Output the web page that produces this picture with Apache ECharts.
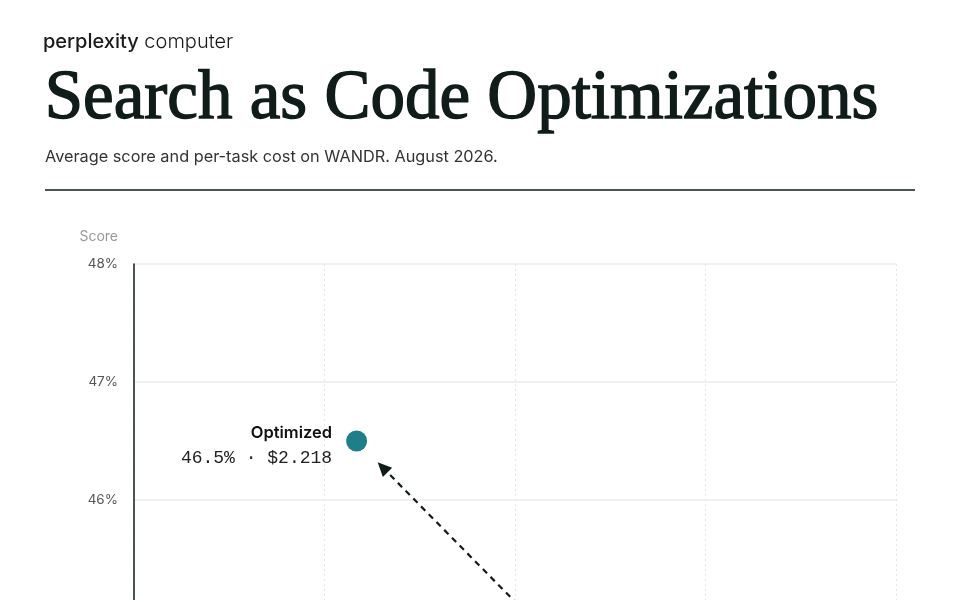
<!DOCTYPE html>
<html>
<head>
<meta charset="utf-8">
<script src="https://cdn.jsdelivr.net/npm/echarts@6/dist/echarts.min.js"></script>
<style>
  html, body { margin: 0; padding: 0; background: #fff; }
  #chart { width: 960px; height: 600px; }
</style>
</head>
<body>
<div id="chart"></div>
<script>
// 数据
const pointNames = ['Baseline', 'Optimized'];
const costs = [3.03, 2.218];      // $ per task
const scores = [44.6, 46.5];      // average score, %
const yTicks = { min: 44, max: 48, step: 1 };
const xTicks = { min: 1.4, max: 4.2, step: 0.7 };

const ink = '#0f1c1a';
const teal = '#1f7f89';

const myChart = echarts.init(document.getElementById('chart'));

// arrow from baseline to optimized, stops short of both dots
function arrow(params, api) {
  const p1 = api.coord([api.value(0), api.value(1)]);
  const p2 = api.coord([api.value(2), api.value(3)]);
  const dx = p2[0] - p1[0], dy = p2[1] - p1[1];
  const len = Math.sqrt(dx * dx + dy * dy);
  const ux = dx / len, uy = dy / len;
  const tip = [p2[0] - ux * 30, p2[1] - uy * 30];
  const back = [tip[0] - ux * 14, tip[1] - uy * 14];
  const start = [p1[0] + ux * 30, p1[1] + uy * 30];
  return {
    type: 'group',
    children: [
      { type: 'line', shape: { x1: start[0], y1: start[1], x2: back[0], y2: back[1] },
        style: { stroke: ink, lineWidth: 2.2, lineDash: [6, 5] } },
      { type: 'polygon', shape: { points: [tip,
          [back[0] - uy * 6.5, back[1] + ux * 6.5],
          [back[0] + uy * 6.5, back[1] - ux * 6.5]] },
        style: { fill: ink } }
    ]
  };
}

myChart.setOption({
  backgroundColor: '#fff',
  animation: false,
  textStyle: { fontFamily: 'Inter' },
  graphic: [
    { type: 'text', left: 43, top: 32,
      style: { text: '{a|perplexity}{b| computer}',
        rich: { a: { fontFamily: 'Inter', fontSize: 20, fontWeight: 500, fill: '#1b1b1b' },
                b: { fontFamily: 'Inter', fontSize: 20, fontWeight: 300, fill: '#1b1b1b' } } } },
    { type: 'text', left: 44, top: 65,
      style: { text: 'Search as Code Optimizations', fill: ink, stroke: ink, lineWidth: 1.4,
        font: '69px "Liberation Serif"' } },
    { type: 'text', left: 45, top: 149,
      style: { text: 'Average score and per-task cost on WANDR. August 2026.', fill: '#333',
        font: '16.3px Inter' } },
    { type: 'line', shape: { x1: 45, y1: 190, x2: 915, y2: 190 },
      style: { stroke: ink, lineWidth: 1.5 } }
  ],
  grid: { left: 134, right: 64, top: 264, bottom: -136, outerBoundsMode: 'none' },
  xAxis: {
    type: 'value', min: xTicks.min, max: xTicks.max, interval: xTicks.step,
    name: 'Cost per task', nameLocation: 'middle', nameGap: 34,
    axisLine: { show: true, lineStyle: { color: ink, width: 1.5 } },
    axisTick: { show: false },
    axisLabel: { formatter: v => '$' + v.toFixed(2), color: '#555', fontSize: 13 },
    splitLine: { show: true, lineStyle: { color: '#e6e6e6', type: [2, 3], width: 1 } }
  },
  yAxis: {
    type: 'value', min: yTicks.min, max: yTicks.max, interval: yTicks.step,
    name: 'Score', nameLocation: 'end', nameGap: 20,
    nameTextStyle: { color: '#999', fontSize: 14, align: 'right', padding: [0, 16, 0, 0] },
    axisLine: { show: true, lineStyle: { color: ink, width: 1.5 } },
    axisTick: { show: false },
    axisLabel: { formatter: v => v + '%', color: '#555', fontSize: 13.5, margin: 16 },
    splitLine: { show: true, lineStyle: { color: '#efede7', width: 1.5 } }
  },
  series: [
    {
      type: 'custom',
      renderItem: arrow,
      data: [[costs[0], scores[0], costs[1], scores[1]]],
      encode: { x: [0, 2], y: [1, 3] },
      z: 2
    },
    {
      type: 'scatter',
      symbolSize: 21,
      itemStyle: { color: teal, opacity: 1 },
      data: pointNames.map((n, i) => ({ name: n, value: [costs[i], scores[i]] })),
      label: {
        show: true, position: 'left', distance: 14, align: 'right', offset: [0, 5],
        formatter: p => '{a|' + p.name + '}\n{b|' + p.value[1].toFixed(1) + '% · $' + p.value[0].toFixed(3) + '}',
        rich: {
          a: { fontFamily: 'Inter', fontSize: 16.5, fontWeight: 600, color: '#111', align: 'right', lineHeight: 25 },
          b: { fontFamily: 'Liberation Mono', fontSize: 18, color: '#222', align: 'right', lineHeight: 25 }
        }
      },
      z: 3
    }
  ]
});
</script>
</body>
</html>
